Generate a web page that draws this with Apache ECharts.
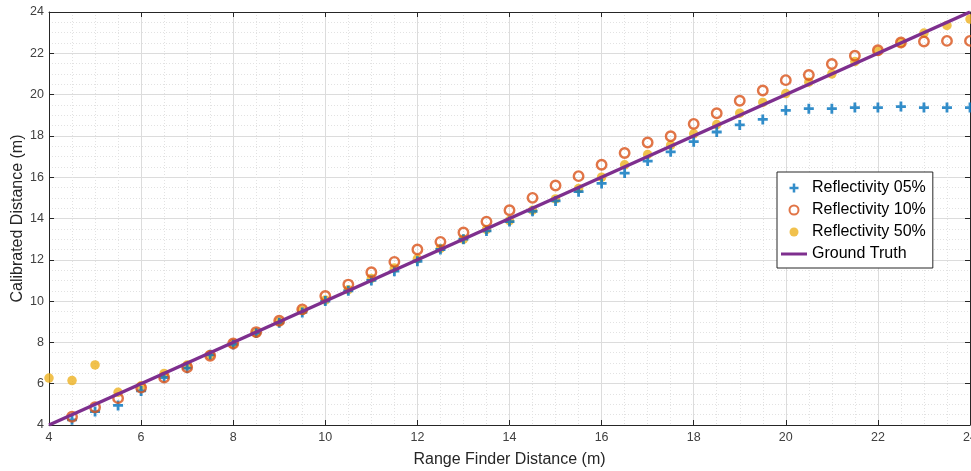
<!DOCTYPE html>
<html>
<head>
<meta charset="utf-8">
<script src="https://cdn.jsdelivr.net/npm/echarts@6/dist/echarts.min.js"></script>
<style>
  html, body { margin: 0; padding: 0; background: #fff; }
  #chart { width: 971px; height: 471px; }
</style>
</head>
<body>
<div id="chart"></div>
<script>
// range finder readings (m)
const xRange = [4.5, 5, 5.5, 6, 6.5, 7, 7.5, 8, 8.5, 9, 9.5, 10, 10.5, 11, 11.5, 12, 12.5, 13, 13.5, 14,
  14.5, 15, 15.5, 16, 16.5, 17, 17.5, 18, 18.5, 19, 19.5, 20, 20.5, 21, 21.5, 22, 22.5, 23, 23.5, 24]
const xRange50 = [4, 4.5, 5, 5.5, 6, 6.5, 7, 7.5, 8, 8.5, 9, 9.5, 10, 10.5, 11, 11.5, 12, 12.5, 13, 13.5, 14,
  14.5, 15, 15.5, 16, 16.5, 17, 17.5, 18, 18.5, 19, 19.5, 20, 20.5, 21, 21.5, 22, 22.5, 23, 23.5, 24]

// calibrated distance (m) per reflectivity
const refl05 = [4.25, 4.65, 4.95, 5.65, 6.3, 6.75, 7.4, 7.9, 8.45, 8.95, 9.45, 10.0, 10.5, 11.0, 11.45, 11.93,
  12.5, 13.0, 13.4, 13.85, 14.35, 14.85, 15.3, 15.7, 16.2, 16.78, 17.23, 17.72, 18.19, 18.53, 18.8, 19.24,
  19.32, 19.32, 19.37, 19.37, 19.42, 19.37, 19.37, 19.37]
const refl10 = [4.4, 4.86, 5.3, 5.81, 6.3, 6.8, 7.35, 7.95, 8.5, 9.05, 9.6, 10.25, 10.8, 11.4, 11.9, 12.5,
  12.87, 13.32, 13.85, 14.4, 15.0, 15.6, 16.05, 16.6, 17.17, 17.68, 17.98, 18.58, 19.1, 19.7, 20.2, 20.7,
  20.95, 21.48, 21.88, 22.15, 22.52, 22.57, 22.6, 22.6]
const refl50 = [6.27, 6.15, 6.91, 5.58, 5.9, 6.5, 6.9, 7.4, 7.93, 8.45, 9.0, 9.55, 10.05, 10.55, 11.1, 11.6,
  12.05, 12.55, 13.0, 13.47, 13.9, 14.4, 14.95, 15.45, 16.0, 16.6, 17.1, 17.55, 18.1, 18.55, 19.1, 19.62,
  20.05, 20.6, 21.0, 21.6, 22.1, 22.5, 22.98, 23.35, 23.66]
const truthX = [4, 24]
const truthY = [4, 24]

const plusPath = 'path://M3.6,0h2.8v3.6h3.6v2.8h-3.6v3.6h-2.8v-3.6h-3.6v-2.8h3.6z'
const axisColor = '#262626'
const font = 'Arial, "Liberation Sans", Helvetica, sans-serif'

const zip = (xs, ys) => xs.map((x, i) => [x, ys[i]])

const chart = echarts.init(document.getElementById('chart'))

const baseAxis = {
  type: 'value',
  min: 4,
  max: 24,
  interval: 2,
  axisLine: { show: true, onZero: false, lineStyle: { color: axisColor, width: 1 } },
  axisTick: { show: true, inside: true, length: 5, lineStyle: { color: axisColor } },
  minorTick: { show: false, splitNumber: 4 }
}

chart.setOption({
  animation: false,
  grid: { left: 49, right: 1, top: 12, bottom: 46, containLabel: false, outerBoundsMode: 'none' },
  xAxis: [
    {
      ...baseAxis,
      position: 'bottom',
      name: 'Range Finder Distance (m)',
      nameLocation: 'middle',
      nameGap: 27,
      nameTextStyle: { color: axisColor, fontSize: 16, fontFamily: font },
      axisLabel: { color: '#404040', fontSize: 12.5, fontFamily: font, margin: 6 },
      splitLine: { show: true, lineStyle: { color: '#dcdcdc', width: 1 } },
      minorSplitLine: { show: true, lineStyle: { color: '#e2e2e2', width: 1, type: [1, 2] } }
    },
    {
      ...baseAxis,
      position: 'top',
      axisLabel: { show: false },
      splitLine: { show: false }
    }
  ],
  yAxis: [
    {
      ...baseAxis,
      position: 'left',
      name: 'Calibrated Distance (m)',
      nameLocation: 'middle',
      nameGap: 23,
      nameMoveOverlap: false,
      nameTextStyle: { color: axisColor, fontSize: 16, fontFamily: font },
      axisLabel: { color: '#404040', fontSize: 12.5, fontFamily: font, margin: 5 },
      splitLine: { show: true, lineStyle: { color: '#dcdcdc', width: 1 } },
      minorSplitLine: { show: true, lineStyle: { color: '#e2e2e2', width: 1, type: [1, 2] } }
    },
    {
      ...baseAxis,
      position: 'right',
      axisLabel: { show: false },
      splitLine: { show: false }
    }
  ],
  legend: {
    orient: 'vertical',
    left: 777,
    top: 172,
    padding: [7, 7, 5, 4],
    itemGap: 4,
    itemWidth: 26,
    itemHeight: 9,
    backgroundColor: '#fff',
    borderColor: '#262626',
    borderWidth: 1,
    borderRadius: 0,
    textStyle: { color: '#000', fontSize: 16, fontFamily: font, lineHeight: 18 },
    data: [
      { name: 'Reflectivity 05%', icon: plusPath },
      { name: 'Reflectivity 10%', icon: 'circle' },
      { name: 'Reflectivity 50%', icon: 'circle' },
      { name: 'Ground Truth', icon: 'path://M0,0h26v3h-26z' }
    ]
  },
  series: [
    {
      name: 'Reflectivity 05%',
      type: 'scatter',
      symbol: plusPath,
      symbolSize: 10,
      itemStyle: { color: '#0072BD' },
      data: zip(xRange, refl05),
      z: 3
    },
    {
      name: 'Reflectivity 10%',
      type: 'scatter',
      symbol: 'circle',
      symbolSize: 9.5,
      itemStyle: { color: 'rgba(0,0,0,0)', borderColor: '#D95319', borderWidth: 2.4 },
      data: zip(xRange, refl10),
      z: 4
    },
    {
      name: 'Reflectivity 50%',
      type: 'scatter',
      symbol: 'circle',
      symbolSize: 9.5,
      itemStyle: { color: '#EDB120' },
      data: zip(xRange50, refl50),
      z: 2
    },
    {
      name: 'Ground Truth',
      type: 'line',
      symbol: 'none',
      lineStyle: { color: '#7E2F8E', width: 3.5 },
      itemStyle: { color: '#7E2F8E' },
      data: zip(truthX, truthY),
      z: 5
    }
  ]
})
</script>
</body>
</html>
